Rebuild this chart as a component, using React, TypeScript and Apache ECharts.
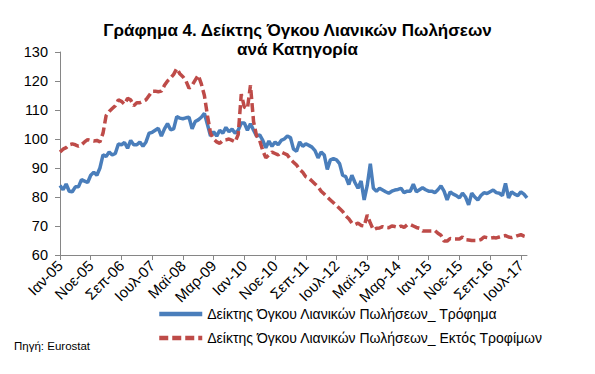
import React, { useEffect, useRef } from 'react';
import * as echarts from 'echarts';

const monthNames = ['Ιαν', 'Φεβ', 'Μαρ', 'Απρ', 'Μαϊ', 'Ιουν', 'Ιουλ', 'Αυγ', 'Σεπ', 'Οκτ', 'Νοε', 'Δεκ'];
const startYear = 2005;
const monthCount = 153;

const categories: string[] = [];
for (let i = 0; i < monthCount; i++) {
  const y = startYear + Math.floor(i / 12);
  categories.push(monthNames[i % 12] + '-' + String(y % 100).padStart(2, '0'));
}

const foodName = 'Δείκτης Όγκου Λιανικών Πωλήσεων_ Τρόφημα';
const nonFoodName = 'Δείκτης Όγκου Λιανικών Πωλήσεων_ Εκτός Τροφίμων';

const foodValues = [
  84, 82.5, 84.5, 82, 81.8, 83.5, 83.5, 86, 85.5, 85, 87.5, 88.5, 87.5, 90, 94.5, 94, 95.5, 94.5, 95, 98.3, 98, 98.8, 96.8, 99.5, 98,
  98, 99, 97.5, 99, 102, 102.3, 103, 103.7, 101, 103.5, 105.3, 103.2, 103.5, 107.7, 107.2, 107, 107.3, 107.5, 103.5, 106, 106.6, 107.5, 108.8, 105, 101,
  102.5, 101, 103, 102, 104, 102.5, 103.4, 102, 103, 105.5, 105.5, 103, 105.3, 103, 101, 101.4, 99.5, 97, 99.3, 97.5, 99, 98, 99.5, 100, 101, 100.5,
  96.5, 95.8, 99, 97.5, 98.3, 97.8, 97.2, 96, 93.5, 95.5, 94.5, 89.5, 92.8, 93.2, 92.8, 91.5, 87.5, 87, 84.3, 87.5, 85, 83, 85.5,
  79, 84, 91.5, 83, 82, 83, 82.4, 81.8, 81.3, 82, 82.4, 82.6, 83, 81.5, 82, 82, 84.4, 81.8, 82.5, 83.2, 82.5, 82, 82, 81.5, 82.5, 83.8, 82,
  79, 81.8, 81, 80.5, 79.7, 81.3, 80, 77.3, 81.3, 80, 79, 80.5, 81.5, 81.2, 81.8, 82.4, 81.5, 81.3, 80.5, 84.7, 79.7, 81.8, 81, 80.5, 81.8, 81, 79.7,
];

const nonFoodValues = [
  95.5, 96.5, 97, 98, 98.3, 98, 97.5, 98, 99, 99.8, 99.5, 99.3, 99.5, 99, 102, 108, 109.5, 110.5, 111.5, 113.5, 113, 112, 114, 113.5, 111.5,
  112.5, 112.5, 113, 113.5, 115, 116.5, 116.5, 116.3, 116.5, 118.5, 120, 121, 122.3, 124.3, 122.5, 121.5, 120, 117.5, 118.5, 120.3, 122, 119, 115, 108, 102,
  100, 99, 98.5, 99.5, 99.7, 100, 99.5, 99, 101.5, 115.5, 111, 110.5, 118.5, 106, 101, 99.5, 96, 93.5, 94.5, 95.5, 95, 94.5, 95.5, 95, 94.5, 93,
  92, 91, 89.5, 88.5, 87, 86.5, 85.5, 84.5, 83.5, 82, 81, 80, 79, 78, 77, 76, 75, 73.5, 72.5, 71, 70.5, 71, 70.2,
  70, 73.8, 71, 68.7, 69.2, 69.3, 69.8, 69.5, 69.4, 70, 69.8, 69.5, 70, 69.5, 70.4, 70.5, 70, 69.5, 69.2, 68.3, 68.3, 68.3, 68.3, 68.5, 67.5, 66.8, 64.8,
  64.8, 65.7, 65.5, 65.5, 65.5, 66.2, 65.3, 65.2, 65, 65, 65, 65.3, 66.2, 66, 65.8, 66, 65.9, 66.2, 66.5, 66.7, 66.2, 66, 66.3, 66.7, 67, 66.5, 66.2,
];

const titleText = 'Γράφημα 4. Δείκτης Όγκου Λιανικών Πωλήσεων\nανά Κατηγορία';
const sourceText = 'Πηγή: Eurostat';

const FONT = '"Liberation Sans", Arial, sans-serif';

export default function App() {
  const ref = useRef<HTMLDivElement>(null);
  useEffect(() => {
    if (!ref.current) return;
    const chart = echarts.init(ref.current, null, { renderer: 'svg' });
    chart.setOption({
      animation: false,
      backgroundColor: '#ffffff',
      title: {
        text: titleText,
        left: 'center',
        top: 16,
        textStyle: { fontFamily: FONT, fontSize: 17, fontWeight: 'bold', color: '#000', lineHeight: 19 },
      },
      legend: {
        orient: 'vertical',
        left: 157,
        top: 307,
        padding: 0,
        itemWidth: 43,
        itemHeight: 14,
        itemGap: 10,
        itemStyle: { opacity: 0 },
        lineStyle: { width: 4.5 },
        textStyle: { fontFamily: FONT, fontSize: 14, color: '#000' },
        data: [foodName, nonFoodName],
      },
      graphic: [
        {
          type: 'text',
          left: 14,
          top: 340,
          style: { text: sourceText, fontFamily: FONT, fontSize: 11.5, fill: '#000' },
        },
      ],
      grid: { left: 60, right: 68, top: 52, bottom: 119, containLabel: false },
      xAxis: {
        type: 'category',
        data: categories,
        boundaryGap: false,
        axisLine: { lineStyle: { color: '#868686', width: 1 } },
        axisTick: { interval: 9, length: 5, lineStyle: { color: '#868686' } },
        axisLabel: { interval: 9, rotate: 45, fontFamily: FONT, fontSize: 15, color: '#000', margin: 8 },
        splitLine: { show: false },
      },
      yAxis: {
        type: 'value',
        min: 60,
        max: 130,
        interval: 10,
        axisLine: { show: true, lineStyle: { color: '#868686', width: 1 } },
        axisTick: { show: true, length: 5, lineStyle: { color: '#868686' } },
        axisLabel: { fontFamily: FONT, fontSize: 14.5, color: '#000', margin: 12 },
        splitLine: { show: false },
      },
      series: [
        {
          name: foodName,
          type: 'line',
          data: foodValues,
          symbol: 'none',
          lineStyle: { color: '#4A7EBB', width: 3.5 },
          itemStyle: { color: '#4A7EBB' },
        },
        {
          name: nonFoodName,
          type: 'line',
          data: nonFoodValues,
          symbol: 'none',
          lineStyle: { color: '#BE4B48', width: 3.5, type: [9, 4] },
          itemStyle: { color: '#BE4B48' },
        },
      ],
    });
    return () => chart.dispose();
  }, []);
  return (
    <div
      ref={ref}
      style={{ position: 'fixed', left: 0, top: 0, width: 595, height: 374, background: '#fff' }}
    />
  );
}
